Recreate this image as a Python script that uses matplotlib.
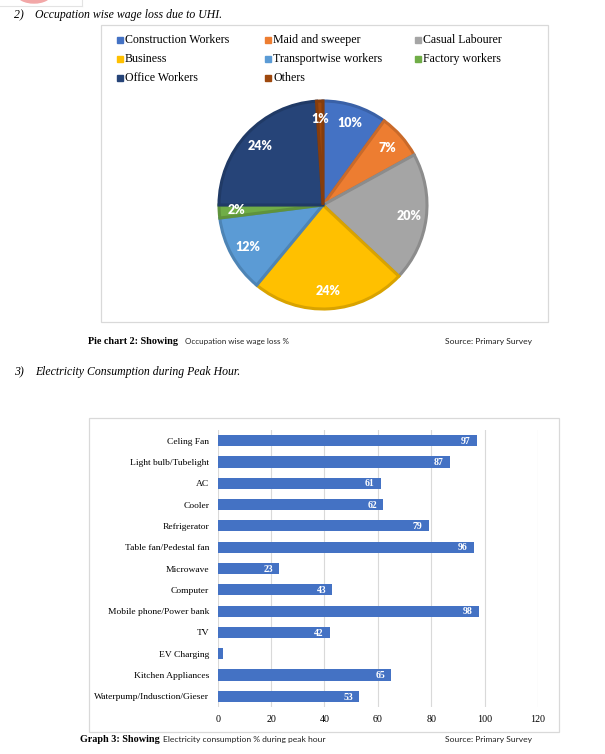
import matplotlib
matplotlib.use("Agg")
import matplotlib.pyplot as plt
from matplotlib.patches import Rectangle, Ellipse
from matplotlib.colors import to_rgb

W, H = 605, 754

# pie data
occupations = ["Construction Workers", "Maid and sweeper", "Casual Labourer",
               "Business", "Transportwise workers", "Factory workers",
               "Office Workers", "Others"]
wage_loss = [10, 7, 20, 24, 12, 2, 24, 1]
pie_colors = ["#4472C4", "#ED7D31", "#A5A5A5", "#FFC000",
              "#5B9BD5", "#70AD47", "#264478", "#9E480E"]

# bar data
appliances = ["Celing Fan", "Light bulb/Tubelight", "AC", "Cooler", "Refrigerator",
              "Table fan/Pedestal fan", "Microwave", "Computer",
              "Mobile phone/Power bank", "TV", "EV Charging", "Kitchen Appliances",
              "Waterpump/Indusction/Gieser"]
consumption = [97, 87, 61, 62, 79, 96, 23, 43, 98, 42, 2, 65, 53]
x_ticks = [0, 20, 40, 60, 80, 100, 120]

SERIF = ["Liberation Serif", "DejaVu Serif"]
SANS = ["Lato", "DejaVu Sans"]


def rect(x, y, w, h):
    # pixel box (top-left origin) -> figure fraction
    return [x / W, 1 - (y + h) / H, w / W, h / H]


def fx(x):
    return x / W


def fy(y):
    return 1 - y / H


def darker(c, f=0.85):
    r, g, b = to_rgb(c)
    return (r * f, g * f, b * f)


fig = plt.figure(figsize=(W / 100, H / 100), dpi=100)
fig.patch.set_facecolor("white")

# leftover fragment of the page above
fig.patches.append(Ellipse((fx(34), fy(-6)), 34 / W, 18 / H, transform=fig.transFigure,
                           color="#F2A7A7", zorder=0))
fig.add_artist(plt.Line2D([fx(0), fx(82)], [fy(6), fy(6)], transform=fig.transFigure,
                          color="#E3E3E3", lw=0.8))
fig.add_artist(plt.Line2D([fx(82), fx(82)], [fy(0), fy(6)], transform=fig.transFigure,
                          color="#E3E3E3", lw=0.8))

# section headings
fig.text(fx(14), fy(15), "2)", family=SERIF, style="italic", fontsize=8.5, va="center")
fig.text(fx(35), fy(15), "Occupation wise wage loss due to UHI.", family=SERIF,
         style="italic", fontsize=8.5, va="center")
fig.text(fx(14), fy(372), "3)", family=SERIF, style="italic", fontsize=8.5, va="center")
fig.text(fx(35), fy(372), "Electricity Consumption during Peak Hour.", family=SERIF,
         style="italic", fontsize=8.5, va="center")

# chart frames
for (x0, y0, x1, y1) in [(101, 25, 548, 322), (89, 418, 559, 732)]:
    fig.patches.append(Rectangle((fx(x0), fy(y1)), (x1 - x0) / W, (y1 - y0) / H,
                                 transform=fig.transFigure, fill=False,
                                 edgecolor="#D9D9D9", lw=0.9))

# ---- pie chart ----
cx, cy, r = 323, 205, 104
pad = 1.06
ax1 = fig.add_axes(rect(cx - r * pad, cy - r * pad, 2 * r * pad, 2 * r * pad))
wedges, _, autotexts = ax1.pie(wage_loss, colors=pie_colors, startangle=90,
                               counterclock=False, radius=1,
                               autopct=lambda p: f"{p:.0f}%", pctdistance=0.83,
                               textprops=dict(color="white", fontweight="heavy",
                                              fontsize=9, family=SANS))
for w, c in zip(wedges, pie_colors):
    w.set_edgecolor(darker(c))
    w.set_linewidth(2.2)
ax1.set_xlim(-pad, pad)
ax1.set_ylim(-pad, pad)
ax1.set_aspect("equal")
ax1.axis("off")

# legend, laid out row by row like the original
leg_x = [120, 268, 418]
leg_y = [40, 59, 78]
for i, (name, c) in enumerate(zip(occupations, pie_colors)):
    lx, ly = leg_x[i % 3], leg_y[i // 3]
    fig.patches.append(Rectangle((fx(lx - 3), fy(ly + 3)), 6 / W, 6 / H,
                                 transform=fig.transFigure, color=c))
    fig.text(fx(lx + 5), fy(ly), name, family=SERIF, fontsize=8.6, va="center")

# ---- bar chart ----
ax2 = fig.add_axes(rect(217.7, 430, 320.3, 277))
ax2.barh(range(len(appliances)), consumption, height=0.52, color="#4472C4", zorder=3)
for i, v in enumerate(consumption):
    if v >= 5:
        ax2.annotate(str(v), xy=(v, i), xytext=(-4.5, -0.5), textcoords="offset points",
                     ha="right", va="center", color="white", fontweight="bold",
                     fontsize=7, family=SERIF, zorder=4)
ax2.set_xlim(0, 120)
ax2.set_ylim(len(appliances) - 0.5, -0.5)
ax2.set_xticks(x_ticks)
ax2.set_xticklabels([str(t) for t in x_ticks], family=SERIF, fontsize=7.2)
ax2.set_yticks(range(len(appliances)))
ax2.set_yticklabels(appliances, family=SERIF, fontsize=6.8)
ax2.tick_params(length=0, pad=6)
ax2.grid(axis="x", color="#D9D9D9", lw=0.8, zorder=0)
for s in ax2.spines.values():
    s.set_visible(False)

# ---- captions ----
fig.text(fx(88), fy(344), "Pie chart 2: Showing", family=SERIF, fontsize=7.3,
         fontweight="bold", va="baseline")
fig.text(fx(185), fy(344), "Occupation wise wage loss %", family=SANS, fontsize=5.8,
         color="#222222", va="baseline")
fig.text(fx(445), fy(344), "Source: Primary Survey", family=SANS, fontsize=6.1,
         color="#222222", va="baseline")

fig.text(fx(80), fy(742), "Graph 3: Showing", family=SERIF, fontsize=7.3,
         fontweight="bold", va="baseline")
fig.text(fx(163), fy(742), "Electricity consumption % during peak hour", family=SANS,
         fontsize=6.1, color="#222222", va="baseline")
fig.text(fx(445), fy(742), "Source: Primary Survey", family=SANS, fontsize=6.1,
         color="#222222", va="baseline")

fig.savefig("out.png", dpi=100)
